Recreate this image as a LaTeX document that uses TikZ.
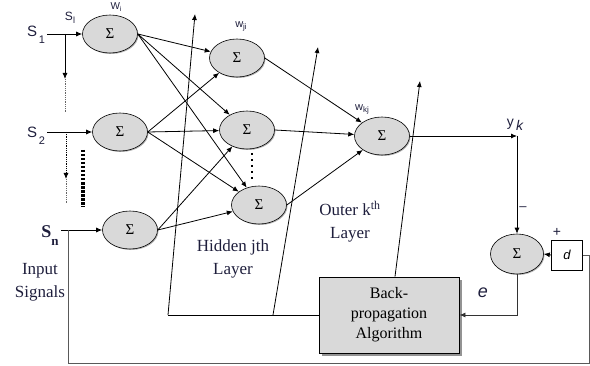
\documentclass[tikz,border=0pt]{standalone}
\usepackage{fontspec}
\setmainfont{Liberation Serif}
\newfontfamily\labelfont{Liberation Sans}
\usetikzlibrary{arrows,arrows.meta,shadows,shapes.geometric,positioning,calc}
\definecolor{inkblue}{HTML}{1E1E3C}

\begin{document}
\begin{tikzpicture}[%
    x=1pt,
    y=1pt,
    wire/.style={->, line width=0.8pt, >={Latex[length=6pt,width=5pt]}},
    link/.style={line width=0.8pt},
    sum/.style={ellipse, draw, line width=0.6pt, fill=black!15, minimum width=55pt, minimum height=38pt, inner sep=0pt, font={\fontsize{15}{15}\selectfont}, drop shadow={shadow xshift=1pt, shadow yshift=-1pt, opacity=0.6}},
    algo/.style={draw, line width=0.9pt, fill=black!15, minimum width=140pt, minimum height=76pt, align=center, font={\fontsize{16}{20}\selectfont}, drop shadow={shadow xshift=2.5pt, shadow yshift=-2.5pt, opacity=0.85}},
    lbl/.style={font={\fontsize{17}{23}\selectfont}, text=inkblue, align=center},
    sig/.style={font={\labelfont\fontsize{15}{15}\selectfont}, text=inkblue, inner sep=0pt},
    wt/.style={font={\labelfont\fontsize{10}{10}\selectfont}, text=inkblue, inner sep=0pt}
    ]

    \useasboundingbox (0,0) rectangle (590,365);

    % summing nodes
    \node at (110,331) [sum] (in1) {Σ};
    \node at (120,233) [sum] (in2) {Σ};
    \node at (130,135) [sum] (in3) {Σ};
    \node at (237,307) [sum] (h1) {Σ};
    \node at (247,235) [sum] (h2) {Σ};
    \node at (259,160) [sum] (h3) {Σ};
    \node at (382,229) [sum] (out) {Σ};
    \node at (517,111) [sum, minimum width=53pt, minimum height=40pt] (err) {Σ};
    \node at (567,110) [draw, line width=0.7pt, minimum width=31pt, minimum height=30pt, font={\labelfont\itshape\fontsize{13}{13}\selectfont}] (dbox) {d};
    \node at (389,50) [algo] (bp) {Back-\\propagation\\Algorithm};

    % input signals
    \node at (36,330) [sig] (s1) {S\raisebox{-7pt}{\fontsize{11}{11}\selectfont\,1}};
    \node at (36,229) [sig] (s2) {S\raisebox{-7pt}{\fontsize{11}{11}\selectfont\,2}};
    \node at (50,129) [sig, font={\bfseries\fontsize{18}{18}\selectfont}] (sn) {S\raisebox{-8pt}{\fontsize{13}{13}\selectfont n}};
    \node at (70,347) [wt, font={\labelfont\fontsize{12}{12}\selectfont}] (si) {S\raisebox{-3pt}{\fontsize{9}{9}\selectfont l}};

    \coordinate (a1) at (47,331);
    \coordinate (b1) at (65,331);
    \coordinate (c1) at (65,286);
    \coordinate (d1) at (65,252);
    \draw[wire] (a1) -- (in1);
    \draw[wire] (b1) -- (c1);
    \draw[link, densely dotted, black!60] (c1) -- (d1);

    \coordinate (a2) at (47,233);
    \coordinate (b2) at (66,233);
    \coordinate (c2) at (66,186);
    \coordinate (d2) at (66,162);
    \draw[wire] (a2) -- (in2);
    \draw[wire, densely dotted] (b2) -- (c2);
    \draw[link, densely dotted, black!60] (c2) -- (d2);
    \draw[line width=3.5pt, dash pattern=on 2.5pt off 1.5pt] (83,215) -- (83,158);

    \coordinate (an) at (61,135);
    \coordinate (bn) at (68,135);
    \draw[wire] (an) -- (in3);

    % layer links
    \foreach \a/\b in {in1/h1, in1/h2, in1/h3, in2/h1, in2/h2, in2/h3, in3/h2, in3/h3}
        \draw[wire] (\a.east) -- (\b);
    \foreach \a in {h1, h2, h3}
        \draw[wire] (\a.east) -- (out);
    \draw[line width=2.5pt, dash pattern=on 2.5pt off 3.5pt] (252,212) -- (252,186);

    % error path
    \coordinate (yk) at (517,229);
    \draw[wire] (out.east) -- (yk);
    \draw[wire] (yk) -- (err.north);
    \draw[wire] (dbox.west) -- (err.east);
    \draw[wire, black!80] (err.south) |- (bp.east);
    \coordinate (fb) at (589,2);
    \draw[link, line width=0.9pt, black!65] (dbox.east) -| (fb) -| (bn);

    % weight updates
    \coordinate (u1) at (168,50);
    \coordinate (u2) at (273,50);
    \coordinate (t1) at (195,351);
    \coordinate (t2) at (318,318);
    \coordinate (t3) at (420,284);
    \draw[link] (bp.west) -- (u1);
    \draw[wire] (u1) -- (t1);
    \draw[wire] (u2) -- (t2);
    \draw[wire] ([xshift=6pt]bp.north) -- (t3);

    % labels
    \node at (116,358) [wt] (wi) {W\raisebox{-2pt}{\fontsize{7}{7}\selectfont i}};
    \node at (241,339) [wt, font={\labelfont\fontsize{11}{11}\selectfont}] (wji) {w\raisebox{-2pt}{\fontsize{8}{8}\selectfont ji}};
    \node at (362,256) [wt, font={\labelfont\fontsize{11}{11}\selectfont}] (wkj) {w\raisebox{-2pt}{\fontsize{8}{8}\selectfont kj}};
    \node at (515,240) [wt, font={\labelfont\fontsize{14}{14}\selectfont}] (ylab) {y\raisebox{-4pt}{\itshape\,k}};
    \node at (523,156) [wt, font={\labelfont\fontsize{13}{13}\selectfont}] (minus) {\textendash};
    \node at (557,133) [wt, font={\labelfont\fontsize{14}{14}\selectfont}] (plus) {+};
    \node at (483,72) [wt, font={\labelfont\itshape\fontsize{18}{18}\selectfont}] (elab) {e};

    \node at (233,106) [lbl] (hid) {Hidden jth\\Layer};
    \node at (350,143) [lbl] (outer) {Outer k\textsuperscript{th}\\Layer};
    \node at (40,83) [lbl] (inp) {Input\\Signals};

\end{tikzpicture}
\end{document}
